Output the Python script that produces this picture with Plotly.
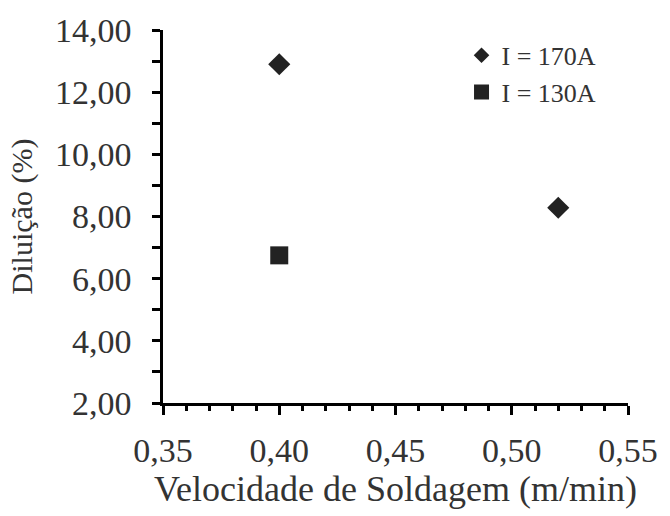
import plotly.graph_objects as go

# Data
x_170 = [0.40, 0.52]
y_170 = [12.90, 8.28]
x_130 = [0.40]
y_130 = [6.75]
name_170 = "I = 170A"
name_130 = "I = 130A"
x_title = "Velocidade de Soldagem (m/min)"
y_title = "Diluição (%)"

font_family = "Liberation Serif, Times New Roman, serif"
txt_col = "#333333"
mk_col = "#222222"

fig = go.Figure()
fig.add_trace(go.Scatter(x=x_170, y=y_170, mode="markers", name=name_170, showlegend=False,
                         marker=dict(symbol="diamond", size=17, color=mk_col)))
fig.add_trace(go.Scatter(x=x_130, y=y_130, mode="markers", name=name_130, showlegend=False,
                         marker=dict(symbol="square", size=18, color=mk_col)))
# legend entries (legend symbols are drawn smaller than the plotted markers)
fig.add_trace(go.Scatter(x=[None], y=[None], mode="markers", name=name_170,
                         marker=dict(symbol="diamond", size=12, color=mk_col)))
fig.add_trace(go.Scatter(x=[None], y=[None], mode="markers", name=name_130,
                         marker=dict(symbol="square", size=15, color=mk_col)))

axis_common = dict(showline=True, linecolor="black", linewidth=2.5,
                   showgrid=False, zeroline=False, ticks="outside",
                   tickcolor="black", tickwidth=2.5, mirror=False,
                   tickfont=dict(family=font_family, size=34, color=txt_col))

fig.update_xaxes(range=[0.35, 0.55], dtick=0.05, tick0=0.35, tickformat=".2f",
                 ticklen=9, ticklabelstandoff=6,
                 minor=dict(dtick=0.01, ticks="outside", ticklen=5, tickwidth=2.5, tickcolor="black"),
                 title=dict(text=x_title, font=dict(family=font_family, size=36, color=txt_col), standoff=0),
                 **axis_common)
fig.update_yaxes(range=[2, 14], dtick=2, tick0=2, tickformat=".2f",
                 ticklen=8, ticklabelstandoff=14,
                 minor=dict(dtick=1, ticks="outside", ticklen=8, tickwidth=2.5, tickcolor="black"),
                 title=dict(text=y_title, font=dict(family=font_family, size=30, color=txt_col), standoff=14),
                 **axis_common)

fig.update_layout(
    width=670, height=516,
    margin=dict(l=163, r=35, t=24, b=113),
    paper_bgcolor="white", plot_bgcolor="white",
    separators=",.",
    showlegend=True,
    legend=dict(x=0.642, y=0.995, xanchor="left", yanchor="top",
                font=dict(family=font_family, size=26, color=txt_col),
                bgcolor="rgba(0,0,0,0)", itemsizing="trace", tracegroupgap=0),
)

fig.write_html("out.html")
